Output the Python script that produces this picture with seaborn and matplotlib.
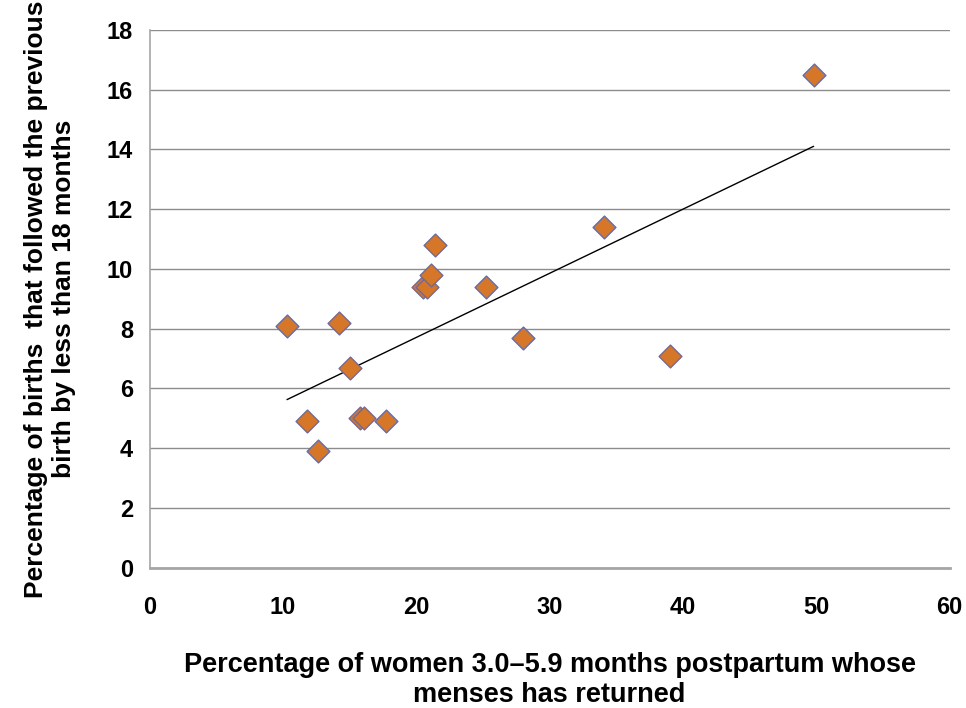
import matplotlib
matplotlib.use("Agg")
import matplotlib.pyplot as plt
import seaborn as sns
import numpy as np
import pandas as pd

menses_returned = [10.3, 11.8, 12.6, 14.2, 15.0, 15.8, 16.1, 17.7, 20.5, 20.8,
                   21.1, 21.4, 25.2, 28.0, 34.1, 39.0, 49.8]
short_interval = [8.1, 4.9, 3.9, 8.2, 6.7, 5.0, 5.0, 4.9, 9.4, 9.4,
                  9.8, 10.8, 9.4, 7.7, 11.4, 7.1, 16.5]
x_ticks = [0, 10, 20, 30, 40, 50, 60]
y_ticks = [0, 2, 4, 6, 8, 10, 12, 14, 16, 18]

df = pd.DataFrame({"x": menses_returned, "y": short_interval})

sns.set_style("white")
plt.rcParams["font.family"] = ["Liberation Sans", "DejaVu Sans"]
plt.rcParams["text.color"] = "black"
plt.rcParams["axes.labelcolor"] = "black"
plt.rcParams["xtick.color"] = "black"
plt.rcParams["ytick.color"] = "black"

fig = plt.figure(figsize=(9.66, 7.08), dpi=100)
ax = fig.add_axes([0.155, 0.198, 0.828, 0.760])

sns.regplot(data=df, x="x", y="y", ax=ax, ci=None, truncate=True,
            scatter=False, line_kws=dict(color="black", lw=1.0, zorder=2))
sns.scatterplot(data=df, x="x", y="y", ax=ax, marker="D", s=135,
                color="#D67628", edgecolor="#6B6B9E", linewidth=1.0, zorder=3)

ax.set_xlim(0, 60)
ax.set_ylim(0, 18)
ax.set_xticks(x_ticks)
ax.set_yticks(y_ticks)
ax.yaxis.grid(True, color="#8c8c8c", lw=1.0)
ax.xaxis.grid(False)
ax.set_axisbelow(True)

for s in ["top", "right"]:
    ax.spines[s].set_visible(False)
ax.spines["left"].set_color("#a6a6a6")
ax.spines["left"].set_linewidth(1.2)
ax.spines["bottom"].set_color("#a6a6a6")
ax.spines["bottom"].set_linewidth(2.0)

ax.tick_params(axis="both", direction="out", length=6, width=1,
               color="#8c8c8c", labelcolor="black", labelsize=17, pad=6)
ax.tick_params(axis="x", pad=14)
for lbl in ax.get_xticklabels() + ax.get_yticklabels():
    lbl.set_fontweight("bold")

ax.set_xlabel("Percentage of women 3.0\u20135.9 months postpartum whose\nmenses has returned",
              fontsize=19.5, fontweight="bold", labelpad=24, linespacing=1.2)
ax.set_ylabel("Percentage of births  that followed the previous\nbirth by less than 18 months",
              fontsize=19, fontweight="bold", labelpad=22, linespacing=1.2)

fig.savefig("out.png", dpi=100)
